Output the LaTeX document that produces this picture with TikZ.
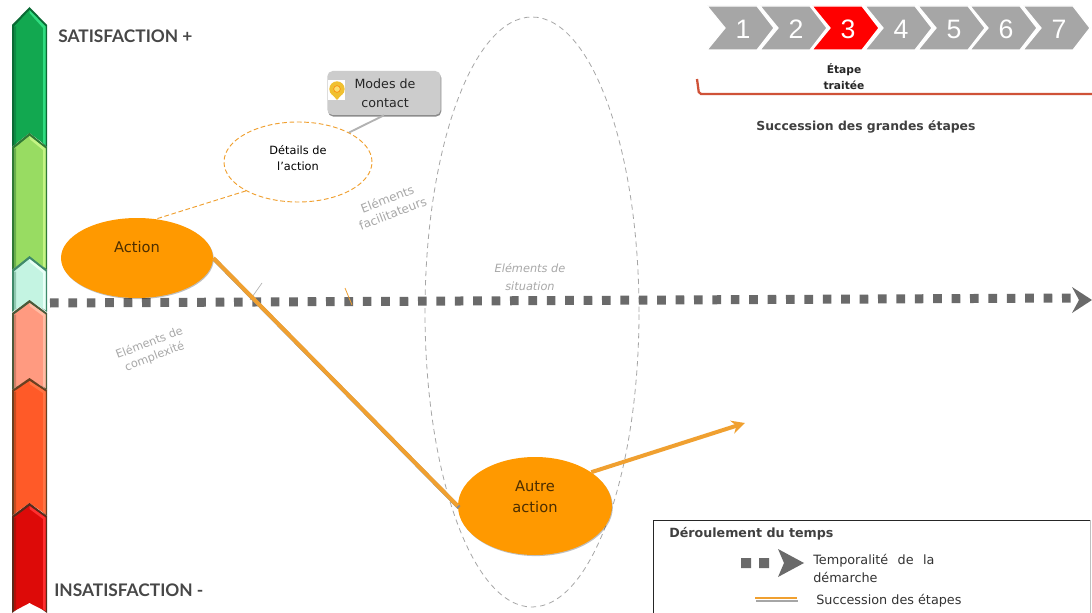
\documentclass[tikz,border=0pt]{standalone}
\usepackage{fontspec}
\setmainfont{DejaVu Sans}
\newfontfamily\latofont{Lato}
\newfontfamily\arialfont{Liberation Sans}
\usetikzlibrary{shapes.geometric,arrows.meta,shadows}
\definecolor{orA}{HTML}{FF9900}
\definecolor{orL}{HTML}{F0A030}
\definecolor{gT}{HTML}{6A6A6A}
\definecolor{grCh}{HTML}{A6A6A6}
\definecolor{grTx}{HTML}{A8A8A8}
\definecolor{brk}{HTML}{CF5238}
\definecolor{aF}{HTML}{12A850}\definecolor{aE}{HTML}{0A6A34}\definecolor{aL}{HTML}{30DC80}\definecolor{aD}{HTML}{0E8A44}
\definecolor{bF}{HTML}{98DC62}\definecolor{bE}{HTML}{2F7A35}\definecolor{bL}{HTML}{C4F484}\definecolor{bD}{HTML}{6AAE4C}
\definecolor{cF}{HTML}{C4F4E2}\definecolor{cE}{HTML}{3F8A6A}\definecolor{cL}{HTML}{E8FFF6}\definecolor{cD}{HTML}{90C8B0}
\definecolor{dF}{HTML}{FF9A80}\definecolor{dE}{HTML}{4A5A3A}\definecolor{dL}{HTML}{FFBCA4}\definecolor{dD}{HTML}{D08068}
\definecolor{eF}{HTML}{FF5A28}\definecolor{eE}{HTML}{6A4020}\definecolor{eL}{HTML}{FF7444}\definecolor{eD}{HTML}{C84C20}
\definecolor{fF}{HTML}{DD0A08}\definecolor{fE}{HTML}{5A2A1A}\definecolor{fL}{HTML}{FF3030}\definecolor{fD}{HTML}{B01008}
\definecolor{pinY}{HTML}{F0C030}\definecolor{pinC}{HTML}{FAE070}
\tikzset{
  orangeell/.style={ellipse,fill=orA,inner sep=0pt,align=center,text=black!70!orA,font=\fontsize{11}{15.75}\selectfont,drop shadow={shadow xshift=.6pt,shadow yshift=-.8pt,opacity=.25,fill=black}},
  mainline/.style={line width=3pt,orL},
  mainshadow/.style={line width=3pt,black!45},
  dotline/.style={line width=6.75pt,gT,dash pattern=on 6.5pt off 7.3pt},
  softtext/.style={text=grTx,font=\fontsize{8.5}{11}\selectfont,align=center},
  legtext/.style={font=\fontsize{9.6}{14}\selectfont,align=left,anchor=west,text=black!80},
  chevnum/.style={text=white,font=\arialfont\fontsize{20}{20}\selectfont,inner sep=0pt},
  heading/.style={font=\latofont\bfseries\fontsize{13}{15}\selectfont,text=black!72,anchor=west,inner sep=0pt}
}
\newcommand{\barseg}[8]{% apex, shoulder, bottom, notch, fill, edge, light, dark
  \fill[#6] (29.5,#1) -- (47,#2) -- (47,#3) -- (29.5,#4) -- (12,#3) -- (12,#2) -- cycle;
  \fill[#5] (29.5,#1+3) -- (45.5,#2+1.5) -- (45.5,#3-2) -- (29.5,#4+3) -- (14,#3-2) -- (14,#2+1.5) -- cycle;
  \fill[#7] (29.5,#1+3) -- (45.5,#2+1.5) -- (45.5,#3-2) -- (43,#3-4) -- (43,#2+3) -- (29.5,#1+6) -- cycle;
  \fill[#8] (14,#2+1.5) -- (16,#2+1.5) -- (16,#3-3.5) -- (14,#3-2) -- cycle;
}
\newcommand{\chev}[4]{% left, fill, name, number
  \path[fill=#2,draw=white,line width=.9pt,line join=miter] (#1,6) -- (#1+50,6) -- (#1+67,28) -- (#1+50,50) -- (#1,50) -- (#1+18,28) -- cycle;
  \node[chevnum] (#3) at (#1+36,29) {#4};
}
\begin{document}
\begin{tikzpicture}[x=.75pt,y=-.75pt]
\useasboundingbox (0,0) rectangle (1092,613);
\fill[white] (0,0) rectangle (1092,613);

% colour scale
\barseg{7}{25}{147}{130}{aF}{aE}{aL}{aD}
\barseg{133}{147}{270}{255}{bF}{bE}{bL}{bD}
\barseg{256}{270}{312}{298}{cF}{cE}{cL}{cD}
\barseg{300}{313}{390}{376}{dF}{dE}{dL}{dD}
\barseg{378}{390}{516}{500}{eF}{eE}{eL}{eD}
\barseg{503}{516}{613}{600}{fF}{fE}{fL}{fD}
\fill[white] (29.5,603) -- (40,613) -- (19,613) -- cycle;

% headings
\node[heading] (sat) at (58,36) {SATISFACTION +};
\node[heading] (insat) at (54,590) {INSATISFACTION -};

% situation ellipse
\node[ellipse,draw=black!35,dash pattern=on 4pt off 3pt,line width=.6pt,minimum width=160.5pt,minimum height=442.5pt,inner sep=0pt] (situ) at (532,312) {};

% time line
\coordinate (tstart) at (50,303);
\coordinate (tend) at (1076,298);
\draw[dotline] (tstart) -- (tend);
\fill[gT] (1072,287) -- (1092,300) -- (1072,313) -- (1079,300) -- cycle;

% stray marks
\coordinate (ma) at (262,283); \coordinate (mb) at (250,300);
\coordinate (mc) at (345,288); \coordinate (md) at (352,305);
\draw[black!30,line width=.5pt] (ma) -- (mb);
\draw[orL,line width=.6pt] (mc) -- (md);

% nodes
\node[orangeell,minimum width=114pt,minimum height=60pt] (action) at (137,258) {Action\\[.25pt]};
\node[orangeell,minimum width=115.5pt,minimum height=73.5pt] (autre) at (535,506) {Autre\\action\\[-2.25pt]};
\node[ellipse,draw=orL,dash pattern=on 3.5pt off 2pt,line width=.7pt,minimum width=111pt,minimum height=60pt,inner sep=0pt,align=center,font=\fontsize{8.5}{12}\selectfont] (detail) at (298,162) {Détails de\\l’action\\[-6pt]};
\node[rounded corners=4pt,fill=black!20,minimum width=85pt,minimum height=33pt,inner sep=0pt,drop shadow={shadow xshift=.5pt,shadow yshift=-1.2pt,opacity=.45,fill=black}] (modes) at (384,93) {};
\node[font=\fontsize{9.5}{14}\selectfont,align=center,text=black!85,inner sep=0pt] (modestx) at (385,93) {Modes de\\contact};

% pin icon
\fill[white] (328,80) rectangle (345,100);
\fill[pinY] (337,100) -- (330,92) -- (344,92) -- cycle;
\node[circle,fill=pinY,minimum size=11.5pt,inner sep=0pt] (pin) at (337,89) {};
\node[circle,fill=pinC,draw=orange,line width=.4pt,minimum size=5pt,inner sep=0pt] (pinc) at (337,89) {};

% connectors
\draw[orL,dash pattern=on 3.5pt off 2pt,line width=.7pt] (detail.209.5) -- (action.64);
\draw[black!30,line width=1.4pt] (modes.south) -- (detail.30);

\coordinate (nextstep) at (745,423);
\draw[mainshadow,transform canvas={xshift=1pt,yshift=-1.2pt}] (action.east) -- (autre.west);
\draw[mainline] (action.east) -- (autre.west);
\draw[mainline,-{Stealth[length=10pt,width=10pt]}] (autre.31) -- (nextstep);

% soft labels
\node[softtext,rotate=21,font=\fontsize{9}{11.5}\selectfont] (fac) at (390,206) {Eléments\\facilitateurs};
\node[softtext,rotate=21,font=\fontsize{8.5}{11}\selectfont] (comp) at (152,350) {Eléments de\\complexité};
\node[softtext,font=\itshape\fontsize{8.5}{13}\selectfont] (sit) at (530,277) {Eléments de\\situation};

% step chevrons
\chev{707}{grCh}{c1}{1}
\chev{760}{grCh}{c2}{2}
\chev{865}{grCh}{c4}{4}
\chev{918}{grCh}{c5}{5}
\chev{970}{grCh}{c6}{6}
\chev{1023}{grCh}{c7}{7}
\chev{812}{red}{c3}{3}

\node[font=\bfseries\fontsize{8}{12}\selectfont,align=center,text=black!85,inner sep=0pt] (etape) at (844,77) {Étape\\traitée};
\coordinate (bra) at (697,79); \coordinate (brb) at (699,94); \coordinate (brc) at (1092,94);
\draw[brk,line width=1.7pt,rounded corners=1.5pt] (bra) -- (brb) -- (brc);
\node[font=\bfseries\fontsize{9.3}{12}\selectfont,text=black!75,inner sep=0pt] (succ) at (866,127) {Succession des grandes étapes};

% legend
\coordinate (la) at (653,613); \coordinate (lb) at (653,520); \coordinate (lc) at (1090,520); \coordinate (ld) at (1090,613);
\draw[black!85,line width=.7pt] (la) -- (lb) -- (lc);
\draw[black!25,line width=.6pt] (lc) -- (ld);
\node[font=\bfseries\fontsize{9.5}{12}\selectfont,text=black!75,anchor=west,inner sep=0pt] (ltitle) at (669,534) {Déroulement du temps};
\fill[gT] (741,558) rectangle (751,568) (759,558) rectangle (769,568);
\fill[gT] (778,549) -- (804,563) -- (778,577) -- (784,563) -- cycle;
\node[legtext,inner sep=0pt] (lt1) at (813,568.5) {Temporalité\hspace{4pt} de\hspace{4pt} la\\démarche};
\coordinate (loa) at (755,598); \coordinate (lob) at (797,598);
\coordinate (lsa) at (756,601); \coordinate (lsb) at (798,601);
\draw[black!35,line width=2pt] (lsa) -- (lsb);
\draw[orL,line width=2.2pt] (loa) -- (lob);
\node[legtext,inner sep=0pt] (lt2) at (816,601) {Succession des étapes};
\end{tikzpicture}
\end{document}
